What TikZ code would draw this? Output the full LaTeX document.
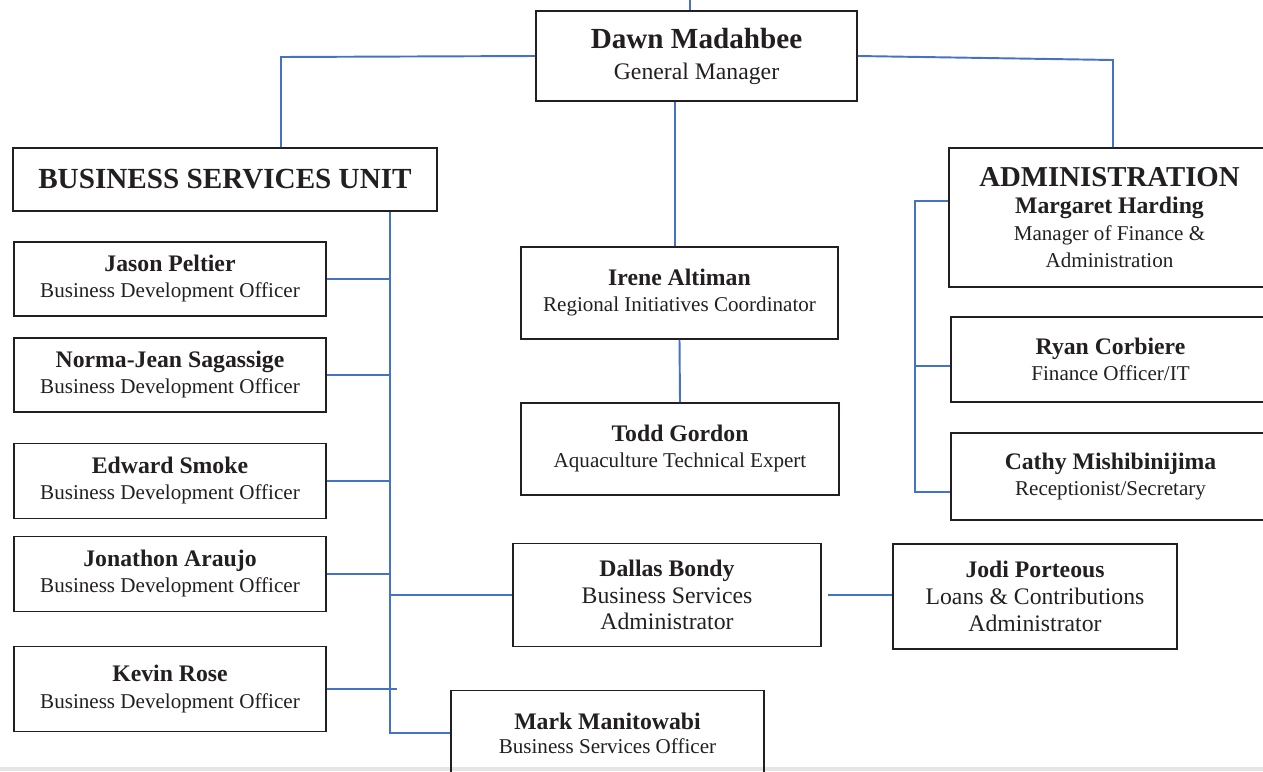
\documentclass[tikz,border=0pt]{standalone}
\usepackage{fontspec}
\setmainfont{Liberation Serif}
\definecolor{linkblue}{RGB}{68,114,196}
\definecolor{inkgray}{RGB}{35,31,32}
\newcommand{\who}[1]{{\fontsize{13.5}{15}\selectfont\bfseries #1}}
\tikzset{
  post/.style={draw=inkgray, line width=1pt, align=center, inner sep=0pt,
    text=inkgray, font=\fontsize{12}{14.8}\selectfont},
  link/.style={draw=linkblue, line width=1.1pt}
}

\begin{document}
\begin{tikzpicture}[x=0.02cm, y=-0.02cm]
  \useasboundingbox (0,0) rectangle (1263,771);
  \clip (0,0) rectangle (1263,771);
  \fill[gray!20] (0,767) rectangle (1263,771);

  % manager
  \node[post, minimum width=6.42cm, minimum height=1.8cm,
    font=\fontsize{13.5}{17.6}\selectfont] (dawn) at (696.5,56)
    {{\fontsize{16.6}{18}\selectfont\bfseries Dawn Madahbee}\\ General Manager};

  % units
  \node[post, minimum width=8.48cm, minimum height=1.26cm,
    font=\fontsize{16.6}{18}\selectfont\bfseries] (bsu) at (225,179.5)
    {BUSINESS SERVICES UNIT};
  \node[post, minimum width=6.42cm, minimum height=2.78cm,
    font=\fontsize{12}{15.5}\selectfont] (admin) at (1109.5,217.5)
    {{\fontsize{16.4}{18}\selectfont\bfseries ADMINISTRATION}\\ \who{Margaret Harding}\\
     Manager of Finance \&\\ Administration};

  \foreach \nid/\name/\yy/\hh in {jason/Jason Peltier/279/1.48,
      norma/Norma-Jean Sagassige/375/1.48, edward/Edward Smoke/481/1.5,
      jonathon/Jonathon Araujo/574/1.5, kevin/Kevin Rose/689/1.7}
    \node[post, minimum width=6.24cm, minimum height=\hh cm] (\nid) at (170,\yy)
      {\who{\name}\\ Business Development Officer};

  \node[post, minimum width=6.34cm, minimum height=1.84cm] (irene) at (679.5,293)
    {\who{Irene Altiman}\\ Regional Initiatives Coordinator};
  \node[post, minimum width=6.36cm, minimum height=1.84cm] (todd) at (680,449)
    {\who{Todd Gordon}\\ Aquaculture Technical Expert};
  \node[post, minimum width=6.16cm, minimum height=2.06cm,
    font=\fontsize{13.5}{15.2}\selectfont] (dallas) at (667,595)
    {\who{Dallas Bondy}\\ Business Services\\ Administrator};
  \node[post, minimum width=5.68cm, minimum height=2.1cm,
    font=\fontsize{13.5}{15.2}\selectfont] (jodi) at (1035,596.5)
    {\who{Jodi Porteous}\\ Loans \& Contributions\\ Administrator};
  \node[post, minimum width=6.26cm, minimum height=1.7cm,
    font=\fontsize{12}{13.6}\selectfont] (mark) at (607.5,733)
    {\who{Mark Manitowabi}\\ Business Services Officer};
  \node[post, minimum width=6.38cm, minimum height=1.7cm] (ryan) at (1110.5,359.5)
    {\who{Ryan Corbiere}\\ Finance Officer/IT};
  \node[post, minimum width=6.38cm, minimum height=1.74cm] (cathy) at (1110.5,476.5)
    {\who{Cathy Mishibinijima}\\ Receptionist/Secretary};

  % links from the top
  \coordinate (topin) at (690,0);
  \coordinate (bsuknee) at (281,57);
  \coordinate (adknee) at (1113,60);
  \coordinate (midline) at (675,0);
  \draw[link] (topin) -- (topin |- dawn.north);
  \draw[link] (dawn.west) -- (bsuknee) -- (bsuknee |- bsu.north);
  \draw[link] (dawn.east) -- (adknee) -- (adknee |- admin.north);
  \draw[link] (midline |- dawn.south) -- (midline |- irene.north);
  \draw[link] (irene.south) -- (todd.north);

  % business services trunk
  \coordinate (trunk) at (390,0);
  \coordinate (kevtip) at (397,0);
  \draw[link] (trunk |- bsu.south) -- (trunk |- mark.west) -- (mark.west);
  \foreach \nid in {jason,norma,edward,jonathon}
    \draw[link] (\nid.east) -- (\nid.east -| trunk);
  \draw[link] (kevin.east) -- (kevin.east -| kevtip);
  \draw[link] (trunk |- dallas.west) -- (dallas.west);
  \draw[link] ([xshift=0.12cm]dallas.east) -- (dallas.east -| jodi.west);

  % administration bracket
  \draw[link] ([yshift=0.33cm]admin.west) -- ++(-0.66cm,0) |- ([yshift=-0.31cm]cathy.west);
  \draw[link] ([yshift=-0.13cm]ryan.west) -- ++(-0.7cm,0);
\end{tikzpicture}
\end{document}
